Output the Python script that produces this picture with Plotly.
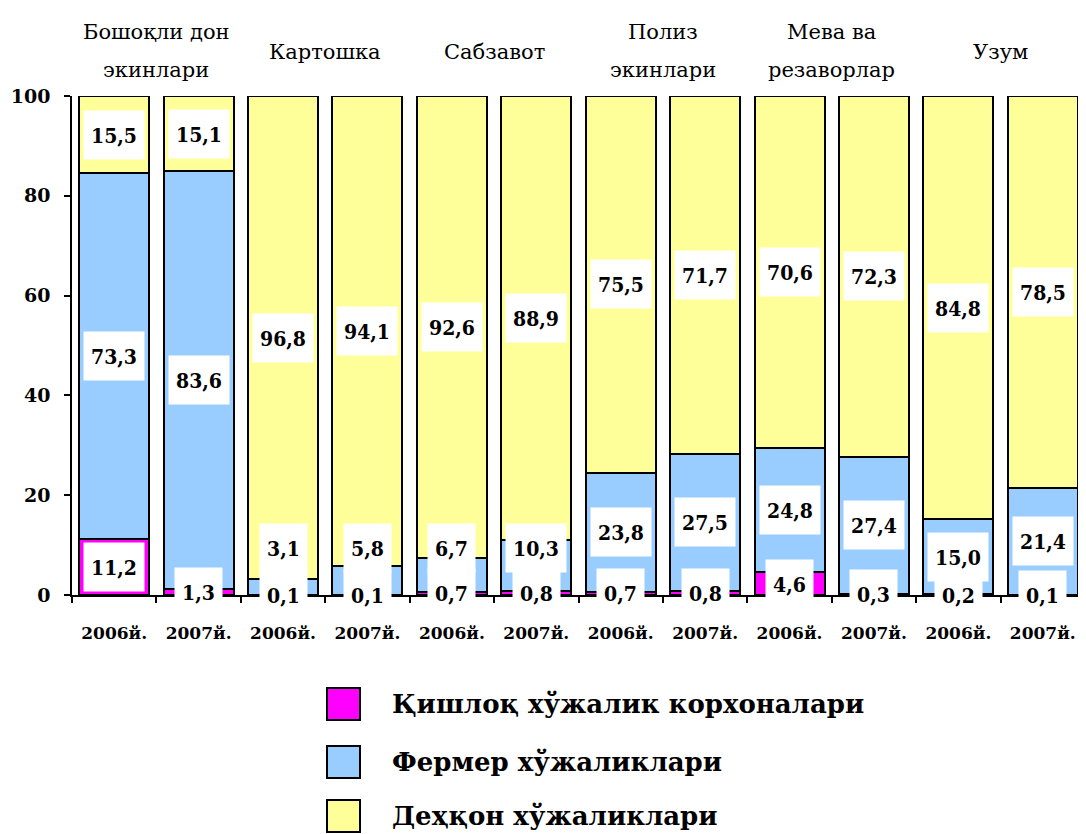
import plotly.graph_objects as go

# ---------------- data ----------------
groups = ["Бошоқли дон<br>экинлари", "Картошка", "Сабзавот", "Полиз<br>экинлари", "Мева ва<br>резаворлар", "Узум"]
years = ["2006й.", "2007й.", "2006й.", "2007й.", "2006й.", "2007й.",
         "2006й.", "2007й.", "2006й.", "2007й.", "2006й.", "2007й."]
series_names = ["Қишлоқ хўжалик корхоналари", "Фермер хўжаликлари", "Деҳқон хўжаликлари"]
korxona = [11.2, 1.3, 0.1, 0.1, 0.7, 0.8, 0.7, 0.8, 4.6, 0.3, 0.2, 0.1]
fermer = [73.3, 83.6, 3.1, 5.8, 6.7, 10.3, 23.8, 27.5, 24.8, 27.4, 15.0, 21.4]
dehqon = [15.5, 15.1, 96.8, 94.1, 92.6, 88.9, 75.5, 71.7, 70.6, 72.3, 84.8, 78.5]
y_ticks = [0, 20, 40, 60, 80, 100]

colors = ["#FF00FF", "#99CCFF", "#FFFF99"]
series = [korxona, fermer, dehqon]

SERIF_C = "DejaVu Serif Condensed, DejaVu Serif"
SERIF = "DejaVu Serif"

OFF = 8  # default page body margin
W, H = 1086 - OFF, 834 - OFF
# plot area in page pixels: x 72..1085, y 96..595
L = 72 - OFF
T = 96 - OFF
PW = 1085 - 72
PH = 595 - 96
R = max(W - L - PW, 0)
B = H - T - PH

def px_x(xp):  # page px -> paper
    return (xp - 72) / PW

def px_y(yp):
    return (595 - yp) / PH

xs = list(range(len(years)))
fig = go.Figure()
for name, vals, col in zip(series_names, series, colors):
    fig.add_trace(go.Bar(
        x=xs, y=vals, name=name, showlegend=False,
        marker=dict(color=col, line=dict(color="black", width=2)),
        width=0.83,
    ))

label_font = dict(family=SERIF_C, size=21, color="black", weight="bold")
annotations = []

def fmt(v):
    return f"{v:.1f}".replace(".", ",")

for i in xs:
    base = 0.0
    for s, vals in enumerate(series):
        v = vals[i]
        mid = base + v / 2
        if s == 1 and v < 12:
            yv = 9.5
        else:
            yv = mid
        annotations.append(dict(
            x=i, y=yv, xref="x", yref="y", text="<b>" + fmt(v) + "</b>",
            showarrow=False, font=label_font, bgcolor="white",
            height=34, borderpad=7,
        ))
        base += v

# group labels on top
for g, name in enumerate(groups):
    lines = name.split("<br>")
    ys = [32, 70] if len(lines) == 2 else [52]
    for ln, yp in zip(lines, ys):
        annotations.append(dict(
            x=2 * g + 0.5, y=px_y(yp), xref="x", yref="paper", text=ln,
            showarrow=False, yanchor="middle",
            font=dict(family=SERIF, size=21, color="black"),
        ))

# manual legend
shapes = []
leg_y = [704, 762, 816]
for k, (name, col) in enumerate(zip(series_names, colors)):
    yc = leg_y[k]
    shapes.append(dict(
        type="rect", xref="paper", yref="paper",
        x0=px_x(327), x1=px_x(360), y0=px_y(yc + 16), y1=px_y(yc - 16),
        fillcolor=col, line=dict(color="black", width=2),
    ))
    annotations.append(dict(
        x=px_x(390), y=px_y(yc), xref="paper", yref="paper", text="<b>" + name + "</b>",
        showarrow=False, xanchor="left", yanchor="middle",
        font=dict(family=SERIF, size=26, color="black"),
    ))

fig.update_layout(
    width=W, height=H,
    margin=dict(l=L, r=R, t=T, b=B, autoexpand=False),
    paper_bgcolor="white", plot_bgcolor="white",
    barmode="stack", bargap=0.17,
    showlegend=False,
    annotations=annotations, shapes=shapes,
    xaxis=dict(
        range=[-0.5, 11.5], tickmode="array", tickvals=xs, ticktext=years,
        ticks="", showgrid=False, zeroline=False,
        showline=True, linecolor="black", linewidth=1.5,
        tickfont=dict(family=SERIF, size=17, color="black", weight="bold"),
        ticklabelstandoff=22,
        minor=dict(tickmode="linear", tick0=-0.5, dtick=1, ticks="outside", ticklen=6,
                   tickcolor="black", tickwidth=1.5, showgrid=False),
    ),
    yaxis=dict(
        range=[0, 100], tickmode="array", tickvals=y_ticks,
        ticks="outside", ticklen=6, tickcolor="black", tickwidth=1.5,
        showgrid=False, zeroline=False,
        showline=True, linecolor="black", linewidth=1.5,
        tickfont=dict(family=SERIF, size=19, color="black", weight="bold"),
        ticklabelstandoff=10,
    ),
)

fig.write_html("out.html")
